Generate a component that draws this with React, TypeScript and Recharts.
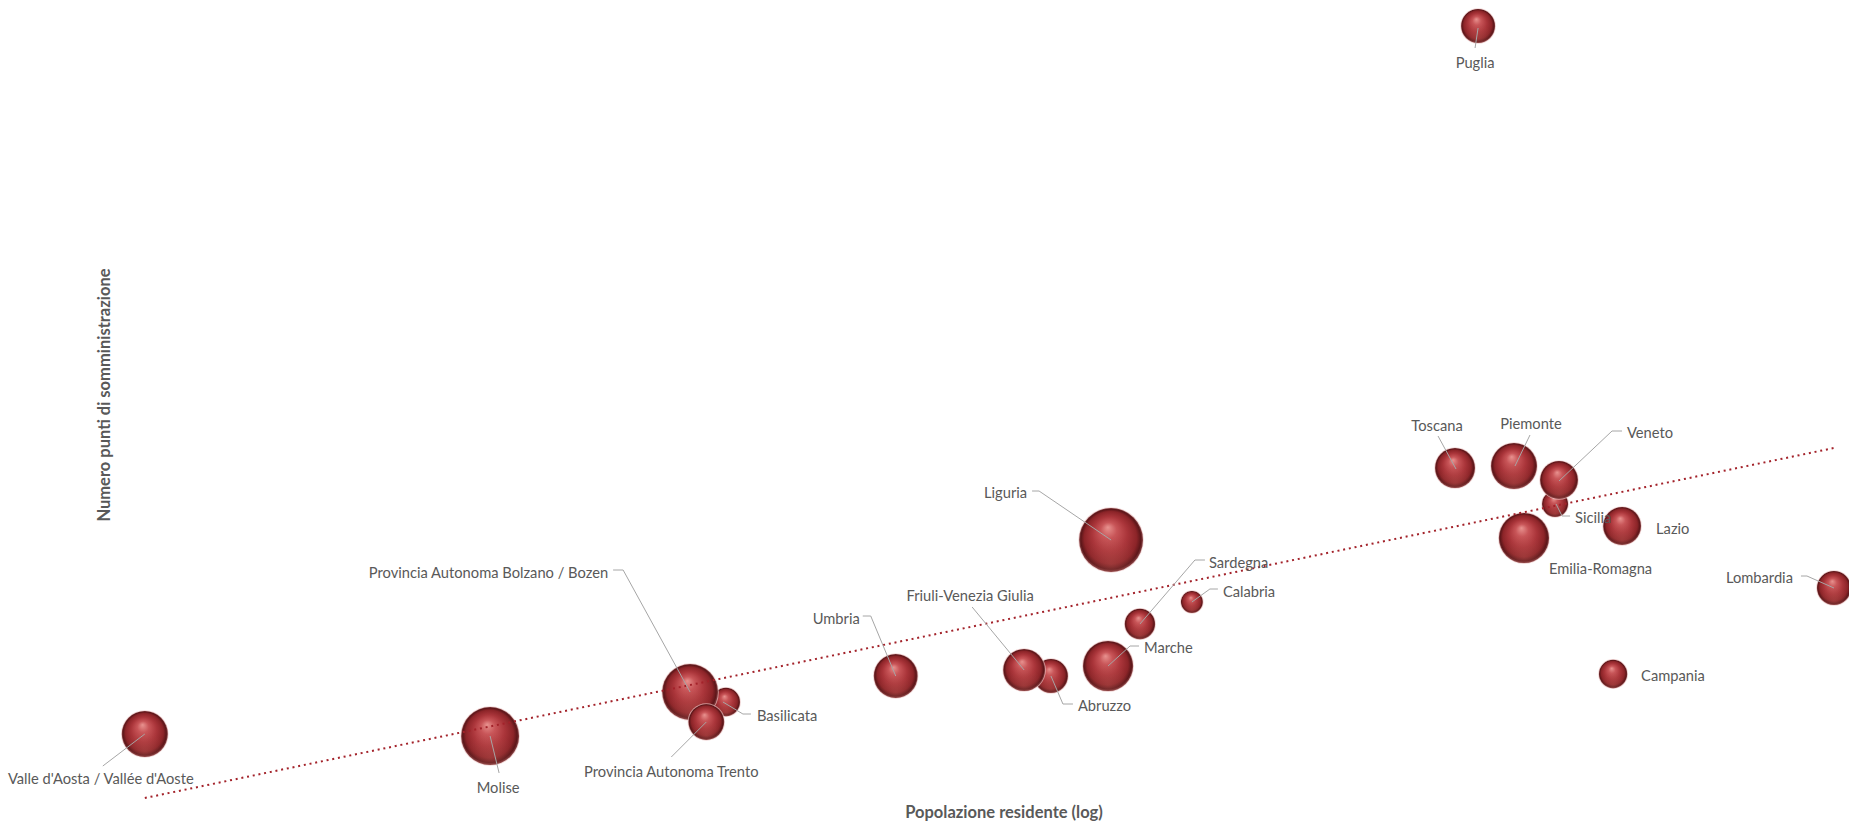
import { ScatterChart, Scatter, XAxis, YAxis, ZAxis } from 'recharts'

// regioni e valori
const regioni = [
  "Valle d'Aosta / Vallée d'Aoste",
  'Molise',
  'Basilicata',
  'Provincia Autonoma Bolzano / Bozen',
  'Provincia Autonoma Trento',
  'Umbria',
  'Abruzzo',
  'Friuli-Venezia Giulia',
  'Marche',
  'Liguria',
  'Sardegna',
  'Calabria',
  'Toscana',
  'Puglia',
  'Piemonte',
  'Emilia-Romagna',
  'Sicilia',
  'Veneto',
  'Campania',
  'Lazio',
  'Lombardia',
]
const popolazione = [
  125000, 306000, 564000, 514000, 536000, 876000, 1310000, 1222000, 1519000, 1531000, 1650000,
  1888000, 3735000, 3965000, 4352000, 4466000, 4841000, 4891000, 5627000, 5760000, 9977000,
]
const puntiSomministrazione = [
  44, 43, 60, 65, 50, 73, 73, 76, 78, 141, 99, 110, 177, 398, 178, 142, 159, 171, 74, 148, 117,
]
const dimensione = [
  53, 84, 20, 78, 32, 48, 29, 44, 63, 102, 23, 12, 40, 29, 53, 63, 17, 36, 20, 36, 29,
]

// linea di tendenza (estremi)
const trendPopolazione = [125000, 9977000]
const trendPunti = [12, 187]

const bolle = regioni.map((nome, i) => ({
  nome,
  x: popolazione[i],
  y: puntiSomministrazione[i],
  z: dimensione[i],
}))
const tendenza = trendPopolazione.map((x, i) => ({ x, y: trendPunti[i] }))

type Pos = { dx: number; dy: number; anchor: 'start' | 'middle' | 'end'; leader: number[][] }

const ETICHETTE: Record<string, Pos> = {
  "Valle d'Aosta / Vallée d'Aoste": { dx: -44, dy: 44, anchor: 'middle', leader: [[0, 0], [-42, 32]] },
  Molise: { dx: 8, dy: 51, anchor: 'middle', leader: [[0, 0], [9, 37]] },
  Basilicata: { dx: 31, dy: 13, anchor: 'start', leader: [[-3, 0], [17, 12], [25, 12]] },
  'Provincia Autonoma Bolzano / Bozen': { dx: -82, dy: -120, anchor: 'end', leader: [[0, 0], [-67, -122], [-77, -122]] },
  'Provincia Autonoma Trento': { dx: -35, dy: 49, anchor: 'middle', leader: [[0, 0], [-35, 35]] },
  Umbria: { dx: -36, dy: -58, anchor: 'end', leader: [[0, 0], [-25, -60], [-33, -60]] },
  Abruzzo: { dx: 27, dy: 29, anchor: 'start', leader: [[0, 0], [12, 28], [22, 28]] },
  'Friuli-Venezia Giulia': { dx: -54, dy: -75, anchor: 'middle', leader: [[0, 0], [-52, -63]] },
  Marche: { dx: 36, dy: -19, anchor: 'start', leader: [[0, 0], [22, -20], [31, -20]] },
  Liguria: { dx: -84, dy: -48, anchor: 'end', leader: [[0, 0], [-72, -49], [-79, -49]] },
  Sardegna: { dx: 69, dy: -62, anchor: 'start', leader: [[0, 0], [55, -64], [65, -64]] },
  Calabria: { dx: 31, dy: -11, anchor: 'start', leader: [[0, 0], [18, -13], [26, -13]] },
  Toscana: { dx: -18, dy: -43, anchor: 'middle', leader: [[1, 1], [-17, -32]] },
  Puglia: { dx: -3, dy: 36, anchor: 'middle', leader: [[0, 2], [-3, 22]] },
  Piemonte: { dx: 17, dy: -43, anchor: 'middle', leader: [[1, 0], [16, -31]] },
  'Emilia-Romagna': { dx: 25, dy: 30, anchor: 'start', leader: [] },
  Sicilia: { dx: 20, dy: 13, anchor: 'start', leader: [[1, 0], [7, 12], [15, 12]] },
  Veneto: { dx: 68, dy: -48, anchor: 'start', leader: [[0, 1], [53, -49], [63, -49]] },
  Campania: { dx: 28, dy: 1, anchor: 'start', leader: [] },
  Lazio: { dx: 34, dy: 2, anchor: 'start', leader: [] },
  Lombardia: { dx: -41, dy: -11, anchor: 'end', leader: [[0, 0], [-27, -12], [-33, -12]] },
}

const FONT = 'Lato, "Open Sans", sans-serif'

function Sfera(props: any) {
  const { cx, cy, width, size } = props
  const r = width ? width / 2 : Math.sqrt(size / Math.PI)
  return (
    <g>
      <circle cx={cx} cy={cy} r={r + 0.8} fill="#ebc6c6" opacity={0.7} />
      <circle cx={cx} cy={cy} r={r} fill="url(#sfera)" />
      <circle cx={cx} cy={cy} r={r} fill="url(#riflesso)" />
    </g>
  )
}

function Etichetta(props: any) {
  const { cx, cy, payload } = props
  const e = ETICHETTE[payload.nome]
  if (!e) return <g />
  const punti = e.leader.map(([a, b]) => `${cx + a},${cy + b}`).join(' ')
  return (
    <g>
      {e.leader.length > 0 && (
        <polyline points={punti} fill="none" stroke="#a6a6a6" strokeWidth={1} />
      )}
      <text
        x={cx + e.dx}
        y={cy + e.dy}
        textAnchor={e.anchor}
        dominantBaseline="central"
        fontFamily={FONT}
        fontSize={14.7}
        fill="#595959"
      >
        {payload.nome}
      </text>
    </g>
  )
}

const titolo = {
  position: 'absolute' as const,
  whiteSpace: 'nowrap' as const,
  fontFamily: FONT,
  fontWeight: 'bold' as const,
  fontSize: 16.5,
  color: '#595959',
}

export default function App() {
  return (
    <div style={{ position: 'fixed', left: 0, top: 0, width: 1849, height: 822, background: '#fff' }}>
      <ScatterChart width={1849} height={822} margin={{ top: 0, right: 0, bottom: 0, left: 0 }}>
        <defs>
          <radialGradient id="sfera" cx="50%" cy="50%" r="50%" fx="45%" fy="30%">
            <stop offset="0%" stopColor="#e8928f" />
            <stop offset="25%" stopColor="#c85558" />
            <stop offset="55%" stopColor="#aa353a" />
            <stop offset="82%" stopColor="#8c2428" />
            <stop offset="94%" stopColor="#5c1619" />
            <stop offset="100%" stopColor="#884446" />
          </radialGradient>
          <radialGradient id="riflesso" cx="50%" cy="88%" r="45%">
            <stop offset="0%" stopColor="#c86a62" stopOpacity={0.3} />
            <stop offset="100%" stopColor="#c86a62" stopOpacity={0} />
          </radialGradient>
        </defs>
        <XAxis
          type="number"
          dataKey="x"
          scale="log"
          domain={[85870, 10373700]}
          allowDataOverflow
          hide
        />
        <YAxis type="number" dataKey="y" domain={[0, 411]} allowDataOverflow hide />
        <ZAxis type="number" dataKey="z" domain={[0, 110]} range={[0, 1100 * Math.PI]} />
        <Scatter data={bolle} shape={<Sfera />} isAnimationActive={false} />
        <Scatter
          data={tendenza}
          shape={() => <g />}
          line={{ stroke: '#a3222a', strokeWidth: 2, strokeDasharray: '2 3.8' }}
          isAnimationActive={false}
        />
        <Scatter data={bolle} shape={<Etichetta />} isAnimationActive={false} />
      </ScatterChart>
      <div style={{ ...titolo, left: 104, top: 395, transform: 'translate(-50%, -50%) rotate(-90deg)' }}>
        Numero punti di somministrazione
      </div>
      <div style={{ ...titolo, left: 1004, top: 812, transform: 'translate(-50%, -50%)' }}>
        Popolazione residente (log)
      </div>
    </div>
  )
}
